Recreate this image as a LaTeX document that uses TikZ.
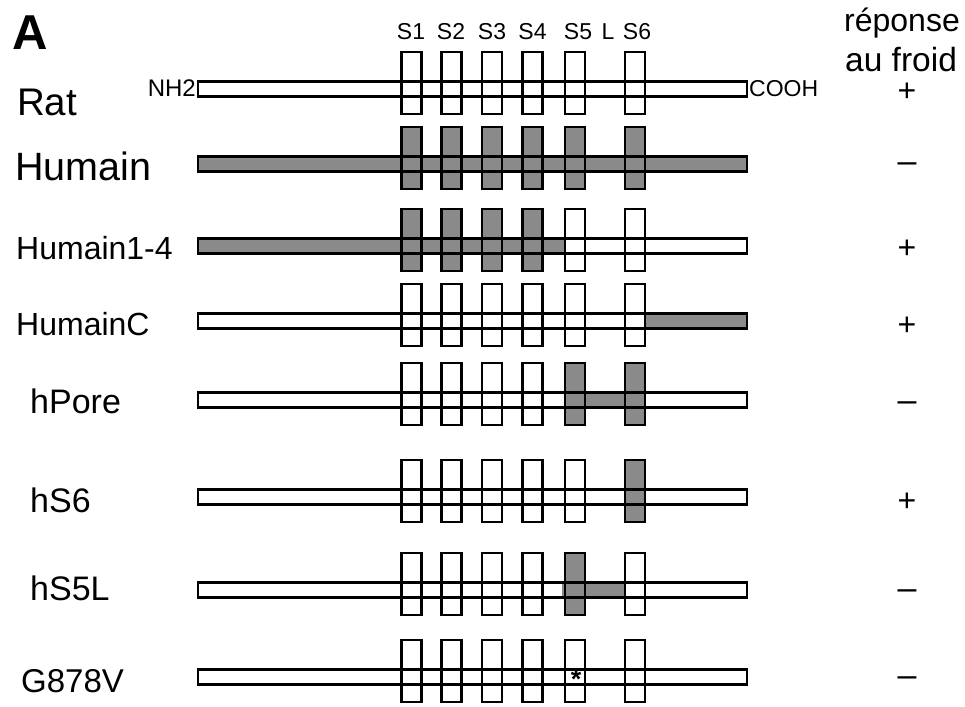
\documentclass[tikz,border=0pt]{standalone}
\usepackage{fontspec}
\setmainfont{Liberation Sans}
\definecolor{tmgray}{RGB}{138,138,138}
\newcommand{\px}[1]{\fontsize{#1}{#1}\selectfont}
\tikzset{
  segbox/.style={rectangle, inner sep=0pt, outer sep=0pt, minimum width=20pt, minimum height=62pt},
  chainbar/.style={rectangle, inner sep=0pt, outer sep=0pt, minimum width=549pt, minimum height=15pt},
  outl/.style={line width=2.1pt},
  rowlbl/.style={anchor=base west, inner sep=0pt},
  sign/.style={anchor=base, inner sep=0pt},
}

\begin{document}
\begin{tikzpicture}[x=1pt,y=-1pt]
  \useasboundingbox (0,0) rectangle (965,706);
  % bar and six segments for every construct
  \foreach \r/\yy in {rat/89,hum/164,humq/246,humc/321,hpore/400,hsix/497,hfive/590,gmut/677} {
    \node[chainbar] (\r-bar) at (472.5,\yy) {};
    \foreach \s/\cx in {1/411.5,2/451.5,3/492,4/532.5,5/575,6/635}
      \node[segbox] (\r-s\s) at (\cx,\yy-6) {};
  }
  % human parts in grey
  \fill[tmgray] (hum-bar.south west) rectangle (hum-bar.north east);
  \foreach \s in {1,...,6} \fill[tmgray] (hum-s\s.south west) rectangle (hum-s\s.north east);
  \fill[tmgray] (humq-bar.south west) rectangle (humq-s5.west |- humq-bar.north);
  \foreach \s in {1,...,4} \fill[tmgray] (humq-s\s.south west) rectangle (humq-s\s.north east);
  \fill[tmgray] (humc-s6.east |- humc-bar.south) rectangle (humc-bar.north east);
  \fill[tmgray] (hpore-s5.east |- hpore-bar.south) rectangle (hpore-s6.west |- hpore-bar.north);
  \foreach \s in {5,6} \fill[tmgray] (hpore-s\s.south west) rectangle (hpore-s\s.north east);
  \fill[tmgray] (hsix-s6.south west) rectangle (hsix-s6.north east);
  \fill[tmgray] ([xshift=-3pt]hfive-s5.west |- hfive-bar.south) rectangle (hfive-s6.west |- hfive-bar.north);
  \fill[tmgray] (hfive-s5.south west) rectangle (hfive-s5.north east);
  % outlines on top
  \foreach \r in {rat,hum,humq,humc,hpore,hsix,hfive,gmut} {
    \draw[outl] (\r-bar.south west) rectangle (\r-bar.north east);
    \foreach \s in {1,...,6} \draw[outl] (\r-s\s.south west) rectangle (\r-s\s.north east);
  }
  % segment names
  \foreach \s/\cx in {1/411,2/451,3/492,4/532.5,5/578,6/637}
    \node[sign, font=\px{23}] (lab-s\s) at (\cx,40) {S\s};
  \node[sign, font=\px{23}] (lab-l) at (608,40) {L};
  \node[anchor=base east, inner sep=0pt, font=\px{24}] (nterm) at (196,97) {NH2};
  \node[anchor=base west, inner sep=0pt, font=\px{23}] (cterm) at (749,97) {COOH};
  \node[sign, font=\px{27}\bfseries] (gmut-star) at (576,688) {*};
  % row names
  \node[rowlbl, font=\px{49}\bfseries] (panel) at (12,50) {A};
  \node[rowlbl, font=\px{38.5}] (rat-lbl) at (17,116) {Rat};
  \node[rowlbl, font=\px{39.5}] (hum-lbl) at (15,180) {Humain};
  \node[rowlbl, font=\px{32}] (humq-lbl) at (16,259) {Humain1-4};
  \node[rowlbl, font=\px{32}] (humc-lbl) at (16,335) {HumainC};
  \node[rowlbl, font=\px{34}] (hpore-lbl) at (30,413) {hPore};
  \node[rowlbl, font=\px{34}] (hsix-lbl) at (30,512) {hS6};
  \node[rowlbl, font=\px{34}] (hfive-lbl) at (30,600) {hS5L};
  \node[rowlbl, font=\px{33}] (gmut-lbl) at (21,692) {G878V};
  % cold response
  \node[rowlbl, font=\px{32}] (resp-a) at (844,32) {réponse};
  \node[rowlbl, font=\px{33.5}] (resp-b) at (845,72) {au froid};
  \node[sign, font=\px{32}] (rat-resp) at (907,101.5) {+};
  \node[sign, font=\px{34}] (hum-resp) at (907,172) {–};
  \node[sign, font=\px{32}] (humq-resp) at (907,258.5) {+};
  \node[sign, font=\px{32}] (humc-resp) at (907,335.5) {+};
  \node[sign, font=\px{34}] (hpore-resp) at (907,411) {–};
  \node[sign, font=\px{32}] (hsix-resp) at (907,511) {+};
  \node[sign, font=\px{34}] (hfive-resp) at (907,599) {–};
  \node[sign, font=\px{34}] (gmut-resp) at (907,686) {–};
\end{tikzpicture}
\end{document}
